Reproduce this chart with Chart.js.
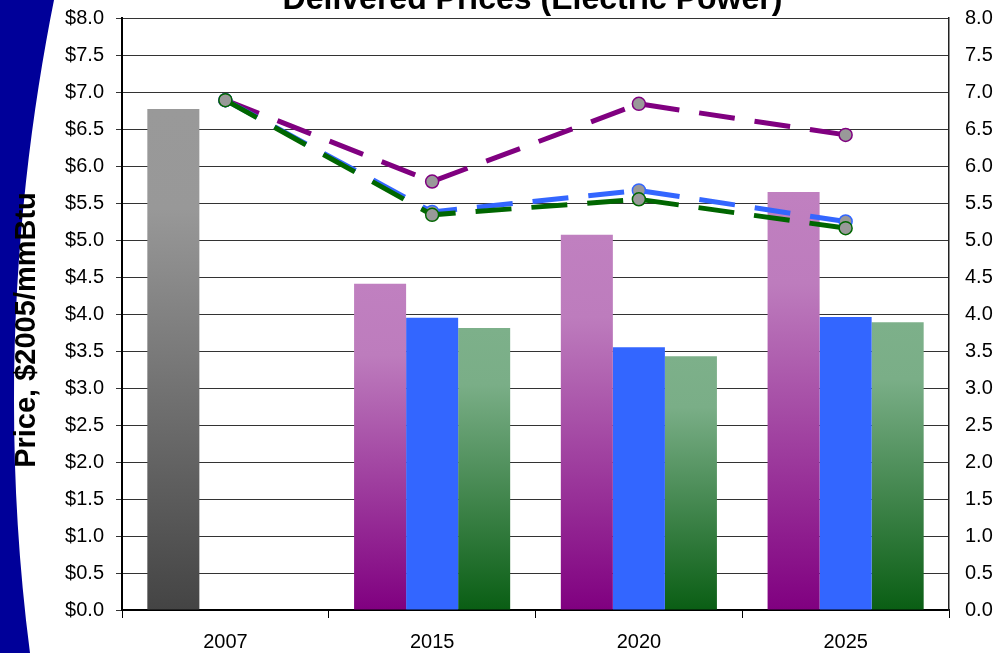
<!DOCTYPE html>
<html>
<head>
<meta charset="utf-8">
<script src="https://cdn.jsdelivr.net/npm/chart.js@4/dist/chart.umd.min.js"></script>
<style>
  html, body { margin: 0; padding: 0; background: #fff; }
  #wrap { width: 999px; height: 653px; position: relative; }
</style>
</head>
<body>
<div id="wrap"><canvas id="chart" width="999" height="653"></canvas></div>
<script>
// categories
const years = ['2007', '2015', '2020', '2025'];

// bars ($2005/mmBtu)
const hist2007   = [6.77, null, null, null];
const barPurple  = [null, 4.41, 5.07, 5.65];
const barBlue    = [null, 3.95, 3.55, 3.96];
const barGreen   = [null, 3.81, 3.43, 3.89];

// dashed lines
const linePurple = [6.89, 5.79, 6.84, 6.42];
const lineBlue   = [6.89, 5.38, 5.67, 5.25];
const lineGreen  = [6.89, 5.34, 5.55, 5.16];

// axis
const yMin = 0, yMax = 8, yStep = 0.5;

const FONT = "'Liberation Sans', Arial, sans-serif";

// per-bar vertical gradient, bottom -> top
function barFill(stops, fallback) {
  return (ctx) => {
    const chart = ctx.chart;
    if (!chart.chartArea || ctx.type !== 'data' || ctx.raw == null) return fallback;
    const y = chart.scales.y;
    const base = y.getPixelForValue(0);
    const top = y.getPixelForValue(ctx.raw);
    const g = chart.ctx.createLinearGradient(0, base, 0, top);
    stops.forEach(s => g.addColorStop(s[0], s[1]));
    return g;
  };
}

// dark blue swoosh on the left edge
const bgShape = {
  id: 'bgShape',
  beforeDraw(chart) {
    const c = chart.ctx;
    c.save();
    c.fillStyle = '#000099';
    c.beginPath();
    c.moveTo(0, 0);
    c.lineTo(54, 0);
    c.bezierCurveTo(22, 160, -4, 390, 30, 653);
    c.lineTo(0, 653);
    c.closePath();
    c.fill();
    c.restore();
  }
};

const labels = {
  id: 'labels',
  afterDraw(chart) {
    const c = chart.ctx;
    const a = chart.chartArea;
    c.save();
    c.fillStyle = '#000';
    c.font = "bold 32px " + FONT;
    c.textAlign = 'center';
    c.textBaseline = 'alphabetic';
    c.fillText('Delivered Prices (Electric Power)', (a.left + a.right) / 2 - 3, 9);

    c.translate(27, 330);
    c.rotate(-Math.PI / 2);
    c.font = "bold 29px " + FONT;
    c.textBaseline = 'middle';
    c.fillText('Price, $2005/mmBtu', 0, 0);
    c.restore();
  }
};

function lineSet(data, color, order) {
  return {
    type: 'line',
    data: data,
    borderColor: color,
    borderWidth: 5,
    borderDash: [36, 20],
    borderCapStyle: 'butt',
    fill: false,
    tension: 0,
    pointRadius: 6.5,
    pointBackgroundColor: '#999999',
    pointBorderColor: color,
    pointBorderWidth: 1.5,
    order: order
  };
}

// fixed plot box: left 122, right 949, top 18, bottom 610
function fixY(width) {
  return s => { s.width = width; s.paddingTop = 0; s.paddingBottom = 0; };
}

new Chart(document.getElementById('chart'), {
  type: 'bar',
  data: {
    labels: years,
    datasets: [
      lineSet(lineGreen, '#006600', 0),
      lineSet(lineBlue, '#3366ff', 1),
      lineSet(linePurple, '#800080', 2),
      {
        data: hist2007, stack: 'a', order: 5,
        backgroundColor: barFill([[0, '#444444'], [0.8, '#989898'], [1, '#999999']], '#999')
      },
      {
        data: barPurple, stack: 'a', order: 5,
        backgroundColor: barFill([[0, '#800080'], [0.78, '#bd7cbd'], [1, '#c080c0']], '#bf7fbf')
      },
      {
        data: barBlue, stack: 'b', order: 5,
        backgroundColor: '#3366ff'
      },
      {
        data: barGreen, stack: 'c', order: 5,
        backgroundColor: barFill([[0, '#0a5e14'], [0.8, '#7aae87'], [1, '#7db08a']], '#7db08a')
      }
    ]
  },
  options: {
    responsive: false,
    animation: false,
    devicePixelRatio: 1,
    layout: { padding: { top: 18, left: 0, right: 0, bottom: 0 } },
    datasets: { bar: { categoryPercentage: 0.755, barPercentage: 1.0 } },
    plugins: {
      legend: { display: false },
      tooltip: { enabled: false },
      title: { display: false }
    },
    scales: {
      x: {
        stacked: true,
        offset: true,
        grid: { offset: true, drawOnChartArea: false, drawTicks: true, tickLength: 8, color: '#000' },
        border: { color: '#000', width: 2 },
        ticks: { color: '#000', font: { family: FONT, size: 20 }, padding: 12 },
        afterFit: s => { s.height = 43; s.paddingLeft = 0; s.paddingRight = 0; }
      },
      y: {
        position: 'left',
        min: yMin, max: yMax, stacked: false,
        grid: { color: '#333', lineWidth: 1, drawTicks: true, tickLength: 6 },
        border: { color: '#000', width: 2 },
        ticks: {
          stepSize: yStep, color: '#000', padding: 12,
          font: { family: FONT, size: 20 },
          callback: v => '$' + v.toFixed(1)
        },
        afterFit: fixY(122)
      },
      y2: {
        position: 'right',
        min: yMin, max: yMax,
        grid: { drawOnChartArea: false, drawTicks: false },
        border: { color: '#222', width: 1.5 },
        ticks: {
          stepSize: yStep, color: '#000', padding: 16,
          font: { family: FONT, size: 20 },
          callback: v => v.toFixed(1)
        },
        afterFit: fixY(50)
      }
    }
  },
  plugins: [bgShape, labels]
});
</script>
</body>
</html>
